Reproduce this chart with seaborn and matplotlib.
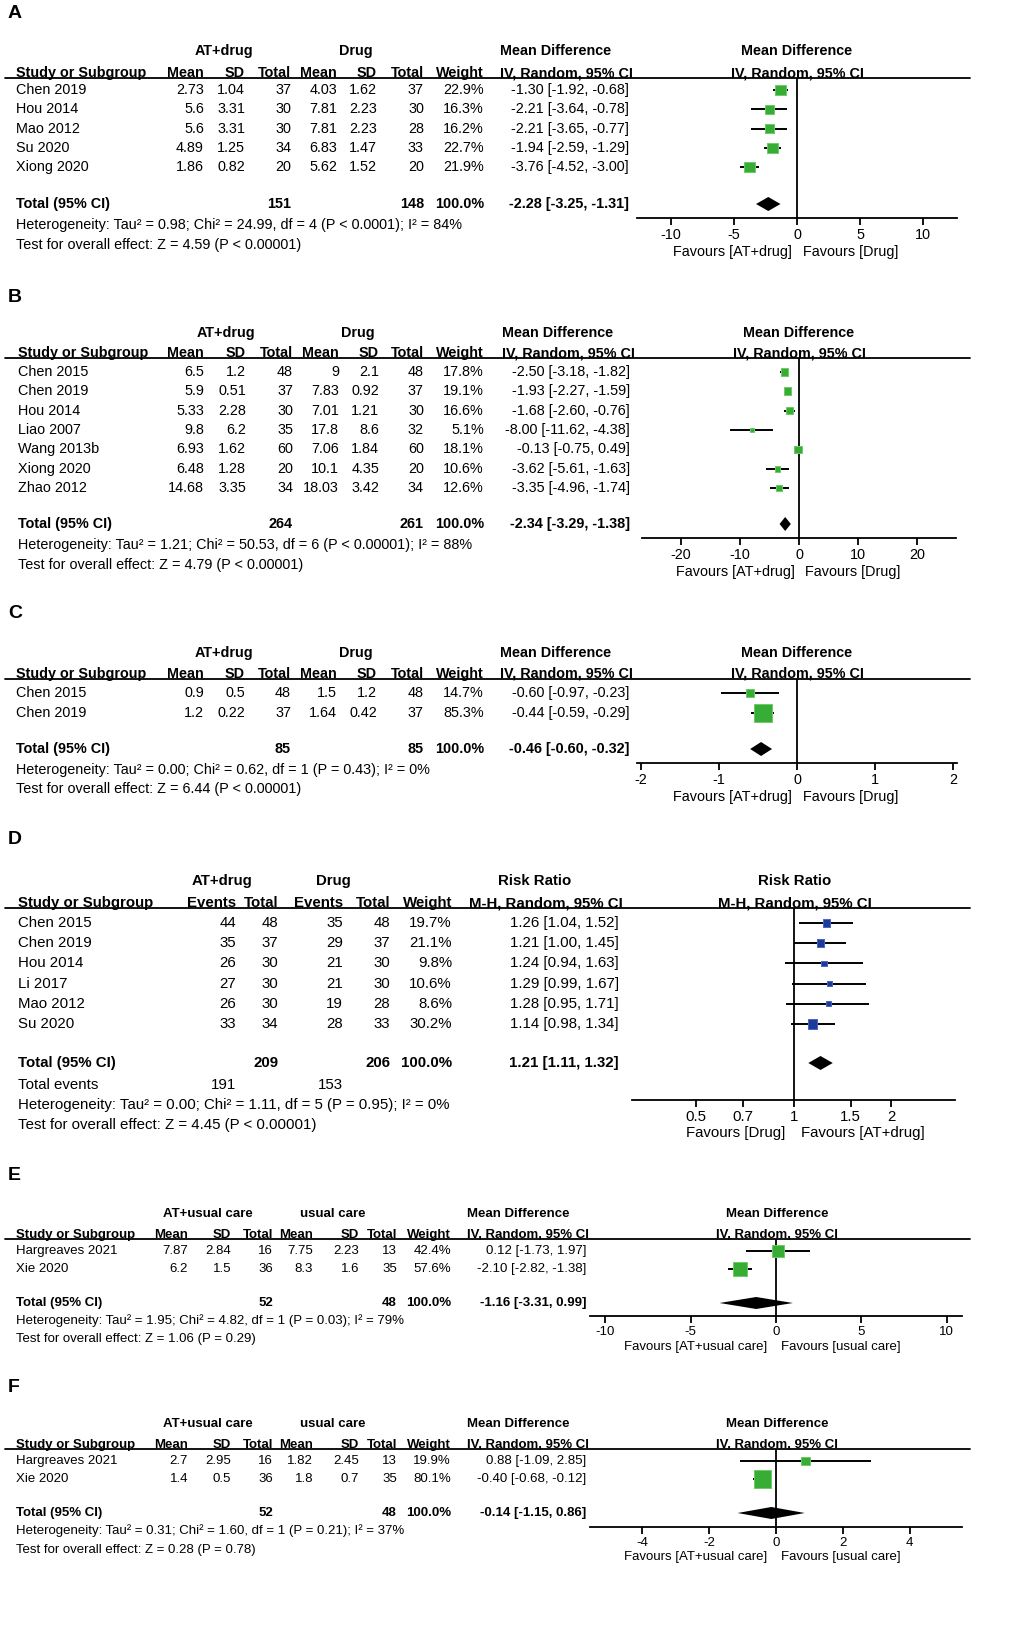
import numpy as np
import pandas as pd
import matplotlib
matplotlib.use("Agg")
import matplotlib.pyplot as plt
from matplotlib.lines import Line2D
import seaborn as sns

sns.set_theme(style="white")
plt.rcParams["font.family"] = ["Liberation Sans", "DejaVu Sans"]
plt.rcParams["text.color"] = "black"
plt.rcParams["axes.edgecolor"] = "black"
plt.rcParams["xtick.color"] = "black"

# ---------------- DATA ----------------
# Panel A
A_study = ["Chen 2019", "Hou 2014", "Mao 2012", "Su 2020", "Xiong 2020"]
A_m1 = [2.73, 5.6, 5.6, 4.89, 1.86]
A_sd1 = [1.04, 3.31, 3.31, 1.25, 0.82]
A_n1 = [37, 30, 30, 34, 20]
A_m2 = [4.03, 7.81, 7.81, 6.83, 5.62]
A_sd2 = [1.62, 2.23, 2.23, 1.47, 1.52]
A_n2 = [37, 30, 28, 33, 20]
A_w = [22.9, 16.3, 16.2, 22.7, 21.9]
A_md = [-1.30, -2.21, -2.21, -1.94, -3.76]
A_lo = [-1.92, -3.64, -3.65, -2.59, -4.52]
A_hi = [-0.68, -0.78, -0.77, -1.29, -3.00]
A_tot = [151, 148, -2.28, -3.25, -1.31]
A_het = ["Heterogeneity: Tau² = 0.98; Chi² = 24.99, df = 4 (P < 0.0001); I² = 84%",
         "Test for overall effect: Z = 4.59 (P < 0.00001)"]
A_ticks = [-10, -5, 0, 5, 10]

# Panel B
B_study = ["Chen 2015", "Chen 2019", "Hou 2014", "Liao 2007", "Wang 2013b", "Xiong 2020", "Zhao 2012"]
B_m1 = [6.5, 5.9, 5.33, 9.8, 6.93, 6.48, 14.68]
B_sd1 = [1.2, 0.51, 2.28, 6.2, 1.62, 1.28, 3.35]
B_n1 = [48, 37, 30, 35, 60, 20, 34]
B_m2 = [9, 7.83, 7.01, 17.8, 7.06, 10.1, 18.03]
B_sd2 = [2.1, 0.92, 1.21, 8.6, 1.84, 4.35, 3.42]
B_n2 = [48, 37, 30, 32, 60, 20, 34]
B_w = [17.8, 19.1, 16.6, 5.1, 18.1, 10.6, 12.6]
B_md = [-2.50, -1.93, -1.68, -8.00, -0.13, -3.62, -3.35]
B_lo = [-3.18, -2.27, -2.60, -11.62, -0.75, -5.61, -4.96]
B_hi = [-1.82, -1.59, -0.76, -4.38, 0.49, -1.63, -1.74]
B_tot = [264, 261, -2.34, -3.29, -1.38]
B_het = ["Heterogeneity: Tau² = 1.21; Chi² = 50.53, df = 6 (P < 0.00001); I² = 88%",
         "Test for overall effect: Z = 4.79 (P < 0.00001)"]
B_ticks = [-20, -10, 0, 10, 20]

# Panel C
C_study = ["Chen 2015", "Chen 2019"]
C_m1 = [0.9, 1.2]
C_sd1 = [0.5, 0.22]
C_n1 = [48, 37]
C_m2 = [1.5, 1.64]
C_sd2 = [1.2, 0.42]
C_n2 = [48, 37]
C_w = [14.7, 85.3]
C_md = [-0.60, -0.44]
C_lo = [-0.97, -0.59]
C_hi = [-0.23, -0.29]
C_tot = [85, 85, -0.46, -0.60, -0.32]
C_het = ["Heterogeneity: Tau² = 0.00; Chi² = 0.62, df = 1 (P = 0.43); I² = 0%",
         "Test for overall effect: Z = 6.44 (P < 0.00001)"]
C_ticks = [-2, -1, 0, 1, 2]

# Panel D
D_study = ["Chen 2015", "Chen 2019", "Hou 2014", "Li 2017", "Mao 2012", "Su 2020"]
D_e1 = [44, 35, 26, 27, 26, 33]
D_n1 = [48, 37, 30, 30, 30, 34]
D_e2 = [35, 29, 21, 21, 19, 28]
D_n2 = [48, 37, 30, 30, 28, 33]
D_w = [19.7, 21.1, 9.8, 10.6, 8.6, 30.2]
D_rr = [1.26, 1.21, 1.24, 1.29, 1.28, 1.14]
D_lo = [1.04, 1.00, 0.94, 0.99, 0.95, 0.98]
D_hi = [1.52, 1.45, 1.63, 1.67, 1.71, 1.34]
D_tot = [209, 206, 1.21, 1.11, 1.32]
D_events = [191, 153]
D_het = ["Heterogeneity: Tau² = 0.00; Chi² = 1.11, df = 5 (P = 0.95); I² = 0%",
         "Test for overall effect: Z = 4.45 (P < 0.00001)"]
D_ticks = [0.5, 0.7, 1, 1.5, 2]

# Panel E
E_study = ["Hargreaves 2021", "Xie 2020"]
E_m1 = [7.87, 6.2]
E_sd1 = [2.84, 1.5]
E_n1 = [16, 36]
E_m2 = [7.75, 8.3]
E_sd2 = [2.23, 1.6]
E_n2 = [13, 35]
E_w = [42.4, 57.6]
E_md = [0.12, -2.10]
E_lo = [-1.73, -2.82]
E_hi = [1.97, -1.38]
E_tot = [52, 48, -1.16, -3.31, 0.99]
E_het = ["Heterogeneity: Tau² = 1.95; Chi² = 4.82, df = 1 (P = 0.03); I² = 79%",
         "Test for overall effect: Z = 1.06 (P = 0.29)"]
E_ticks = [-10, -5, 0, 5, 10]

# Panel F
F_study = ["Hargreaves 2021", "Xie 2020"]
F_m1 = [2.7, 1.4]
F_sd1 = [2.95, 0.5]
F_n1 = [16, 36]
F_m2 = [1.82, 1.8]
F_sd2 = [2.45, 0.7]
F_n2 = [13, 35]
F_w = [19.9, 80.1]
F_md = [0.88, -0.40]
F_lo = [-1.09, -0.68]
F_hi = [2.85, -0.12]
F_tot = [52, 48, -0.14, -1.15, 0.86]
F_het = ["Heterogeneity: Tau² = 0.31; Chi² = 1.60, df = 1 (P = 0.21); I² = 37%",
         "Test for overall effect: Z = 0.28 (P = 0.78)"]
F_ticks = [-4, -2, 0, 2, 4]

GREEN = "#38ad35"
GREEN_EDGE = "#6ccc66"
BLUE = "#1d3b9a"
BLUE_EDGE = "#4a66c0"

# ---------------- FIGURE ----------------
W, H = 1016, 1637
fig = plt.figure(figsize=(W / 100, H / 100), dpi=100)


def T(x, y, s, ha="left", va="center", bold=False, size=9.4):
    fig.text(x / W, 1 - y / H, s, ha=ha, va=va,
             fontweight="bold" if bold else "normal", fontsize=size, color="black")


def g(v):
    return f"{v:g}"


def panel(L, study, cols, w, est, lo, hi, tot, het, ticks, extra=None, log=False,
          color=GREEN, edge=GREEN_EDGE):
    fs = L["fs"]
    T(L["lx"], L["letter_y"], L["letter"], bold=True, size=14)
    # group headers
    for txt, cx in L["groups"]:
        T(cx, L["grp_y"], txt, ha="center", bold=True, size=fs)
    T(L["eff_x"], L["grp_y"], L["eff"], ha=L["eff_ha"], bold=True, size=fs)
    T(L["fp_c"], L["grp_y"], L["eff"], ha="center", bold=True, size=fs)
    base = L["line_y"] - 1
    T(L["sx"], base, "Study or Subgroup", va="baseline", bold=True, size=fs)
    T(L["ci_hx"], base, L["method"], va="baseline", bold=True, size=fs)
    T(L["fp_c"], base, L["method"], ha="center", va="baseline", bold=True, size=fs)
    fig.add_artist(Line2D([5 / W, 970 / W], [1 - L["line_y"] / H] * 2, color="black", lw=1.3))
    # column headers and data
    ys = [L["row0"] + i * L["step"] for i in range(len(study))]
    for name, y in zip(study, ys):
        T(L["sx"], y, name, size=fs)
    for (hdr, rx, vals) in cols:
        T(rx, base, hdr, ha="right", va="baseline", bold=True, size=fs)
        for v, y in zip(vals, ys):
            T(rx, y, v, ha="right", size=fs)
    wx = L["wx"]
    T(wx, base, "Weight", ha="right", va="baseline", bold=True, size=fs)
    for v, y in zip(w, ys):
        T(wx, y, f"{v:.1f}%", ha="right", size=fs)
    for m, a, b, y in zip(est, lo, hi, ys):
        T(L["cix"], y, f"{m:.2f} [{a:.2f}, {b:.2f}]", ha="right", size=fs)
    # total row
    ty = L["tot_y"]
    T(L["sx"], ty, "Total (95% CI)", bold=True, size=fs)
    T(L["n1x"], ty, str(tot[0]), ha="right", bold=True, size=fs)
    T(L["n2x"], ty, str(tot[1]), ha="right", bold=True, size=fs)
    T(wx, ty, "100.0%", ha="right", bold=True, size=fs)
    T(L["cix"], ty, f"{tot[2]:.2f} [{tot[3]:.2f}, {tot[4]:.2f}]", ha="right", bold=True, size=fs)
    if extra is not None:
        T(L["sx"], L["ev_y"], "Total events", size=fs)
        T(L["e1x"], L["ev_y"], str(extra[0]), ha="right", size=fs)
        T(L["e2x"], L["ev_y"], str(extra[1]), ha="right", size=fs)
    T(L["sx"], L["het_y"], het[0], size=fs)
    T(L["sx"], L["test_y"], het[1], size=fs)

    # forest plot axes (y in pixel rows, x in effect units)
    x0, x1, ay = L["fx0"], L["fx1"], L["axis_y"]
    ax = fig.add_axes([x0 / W, 1 - ay / H, (x1 - x0) / W, (ay - L["line_y"]) / H])
    ax.patch.set_alpha(0)
    df = pd.DataFrame({"x": est, "y": ys, "w": w})
    ax.hlines(ys, lo, hi, color="black", lw=1.4, zorder=2)
    f = L["sq"]
    sns.scatterplot(data=df, x="x", y="y", size="w", sizes=(0, 100 * f), size_norm=(0, 100),
                    marker="s", color=color, edgecolor=edge, linewidth=0.7,
                    legend=False, ax=ax, zorder=3)
    dh = L["dh"]
    ax.fill([tot[3], tot[2], tot[4], tot[2]], [ty, ty - dh, ty, ty + dh],
            color="black", zorder=4, lw=0)
    ref = 1 if log else 0
    ax.axvline(ref, color="black", lw=1.3, zorder=1)
    if log:
        ax.set_xscale("log")
    ax.set_xlim(*L["xlim"])
    ax.set_ylim(ay, L["line_y"])
    ax.set_xticks(ticks)
    ax.set_xticklabels([g(t) for t in ticks])
    ax.minorticks_off()
    ax.set_yticks([])
    ax.set_xlabel("")
    ax.set_ylabel("")
    for s in ["top", "right", "left"]:
        ax.spines[s].set_visible(False)
    ax.spines["bottom"].set_linewidth(1.3)
    ax.tick_params(axis="x", bottom=True, direction="out", length=5, width=1.3,
                   pad=2.0, labelsize=fs, colors="black")
    T(L["fav_l"], L["fav_y"], L["favs"][0], ha="center", size=fs)
    T(L["fav_r"], L["fav_y"], L["favs"][1], ha="center", size=fs)


def md_cols(m1, sd1, n1, m2, sd2, n2, xs):
    vals = [[g(v) for v in m1], [g(v) for v in sd1], [str(v) for v in n1],
            [g(v) for v in m2], [g(v) for v in sd2], [str(v) for v in n2]]
    hdrs = ["Mean", "SD", "Total", "Mean", "SD", "Total"]
    return [(h, x, v) for h, x, v in zip(hdrs, xs, vals)]


MD = "Mean Difference"
IV = "IV, Random, 95% CI"
FAV = ["Favours [AT+drug]", "Favours [Drug]"]

LA = dict(fs=10.4, lx=8, letter="A", letter_y=13, groups=[("AT+drug", 224), ("Drug", 356)],
          eff=MD, eff_x=500, eff_ha="left", fp_c=797, grp_y=51, line_y=78, sx=16,
          ci_hx=500, method=IV, row0=90, step=19.3, wx=484, cix=629, tot_y=204,
          n1x=291, n2x=424, het_y=225, test_y=245, fx0=637, fx1=957, axis_y=218,
          xlim=(-12.7, 12.7), sq=2.5, dh=7, fav_l=732, fav_r=851, fav_y=252, favs=FAV)
panel(LA, A_study, md_cols(A_m1, A_sd1, A_n1, A_m2, A_sd2, A_n2, [204, 245, 291, 337, 377, 424]),
      A_w, A_md, A_lo, A_hi, A_tot, A_het, A_ticks)

LB = dict(LA, letter="B", letter_y=297, groups=[("AT+drug", 226), ("Drug", 358)],
          eff_x=502, fp_c=799, grp_y=333, line_y=358, sx=18, ci_hx=502, row0=372, step=19.33,
          cix=630, tot_y=524, n1x=293, n2x=424, het_y=545, test_y=565, fx0=642, fx1=956,
          axis_y=538, xlim=(-26.6, 26.6), sq=1.6, fav_l=735, fav_r=853, fav_y=572)
panel(LB, B_study, md_cols(B_m1, B_sd1, B_n1, B_m2, B_sd2, B_n2, [204, 246, 293, 339, 379, 424]),
      B_w, B_md, B_lo, B_hi, B_tot, B_het, B_ticks)

LC = dict(LA, letter="C", letter_y=613, grp_y=653, line_y=679, row0=693, step=20,
          tot_y=749, het_y=770, test_y=789, axis_y=763, xlim=(-2.05, 2.05), sq=2.0,
          fav_y=797, fav_l=732, fav_r=851)
panel(LC, C_study, md_cols(C_m1, C_sd1, C_n1, C_m2, C_sd2, C_n2, [204, 245, 291, 337, 377, 424]),
      C_w, C_md, C_lo, C_hi, C_tot, C_het, C_ticks)

D_cols = [("Events", 236, [str(v) for v in D_e1]), ("Total", 278, [str(v) for v in D_n1]),
          ("Events", 343, [str(v) for v in D_e2]), ("Total", 390, [str(v) for v in D_n2])]
LD = dict(LA, fs=10.8, letter="D", letter_y=840, groups=[("AT+drug", 222), ("Drug", 333)],
          eff="Risk Ratio", eff_x=535, eff_ha="center", fp_c=795, grp_y=881, line_y=908,
          sx=18, ci_hx=469, method="M-H, Random, 95% CI", row0=923, step=20.2, wx=452,
          cix=619, tot_y=1063, n1x=278, n2x=390, ev_y=1085, e1x=236, e2x=343,
          het_y=1105, test_y=1125, fx0=632, fx1=955, axis_y=1100, xlim=(0.318, 3.14),
          sq=1.4, fav_l=736, fav_r=863, fav_y=1133,
          favs=["Favours [Drug]", "Favours [AT+drug]"])
panel(LD, D_study, D_cols, D_w, D_rr, D_lo, D_hi, D_tot, D_het, D_ticks, extra=D_events,
      log=True, color=BLUE, edge=BLUE_EDGE)

FAV2 = ["Favours [AT+usual care]", "Favours [usual care]"]
LE = dict(LA, fs=9.5, letter="E", letter_y=1176, groups=[("AT+usual care", 208), ("usual care", 333)],
          eff_x=467, fp_c=777, grp_y=1214, line_y=1239, sx=16, ci_hx=467, row0=1251, step=18,
          wx=451, cix=586, tot_y=1303, n1x=273, n2x=396, het_y=1321, test_y=1339,
          fx0=590, fx1=962, axis_y=1316, xlim=(-10.9, 10.9), sq=1.6, dh=6,
          fav_l=696, fav_r=841, fav_y=1347, favs=FAV2)
panel(LE, E_study, md_cols(E_m1, E_sd1, E_n1, E_m2, E_sd2, E_n2, [188, 231, 273, 313, 359, 397]),
      E_w, E_md, E_lo, E_hi, E_tot, E_het, E_ticks)

LF = dict(LE, letter="F", letter_y=1388, grp_y=1424, line_y=1449, row0=1461, tot_y=1513,
          n2x=397, het_y=1531, test_y=1550, axis_y=1527, xlim=(-5.57, 5.57), sq=1.9, fav_y=1557)
panel(LF, F_study, md_cols(F_m1, F_sd1, F_n1, F_m2, F_sd2, F_n2, [188, 231, 273, 313, 359, 397]),
      F_w, F_md, F_lo, F_hi, F_tot, F_het, F_ticks)

fig.savefig("out.png", dpi=100, facecolor="white")
